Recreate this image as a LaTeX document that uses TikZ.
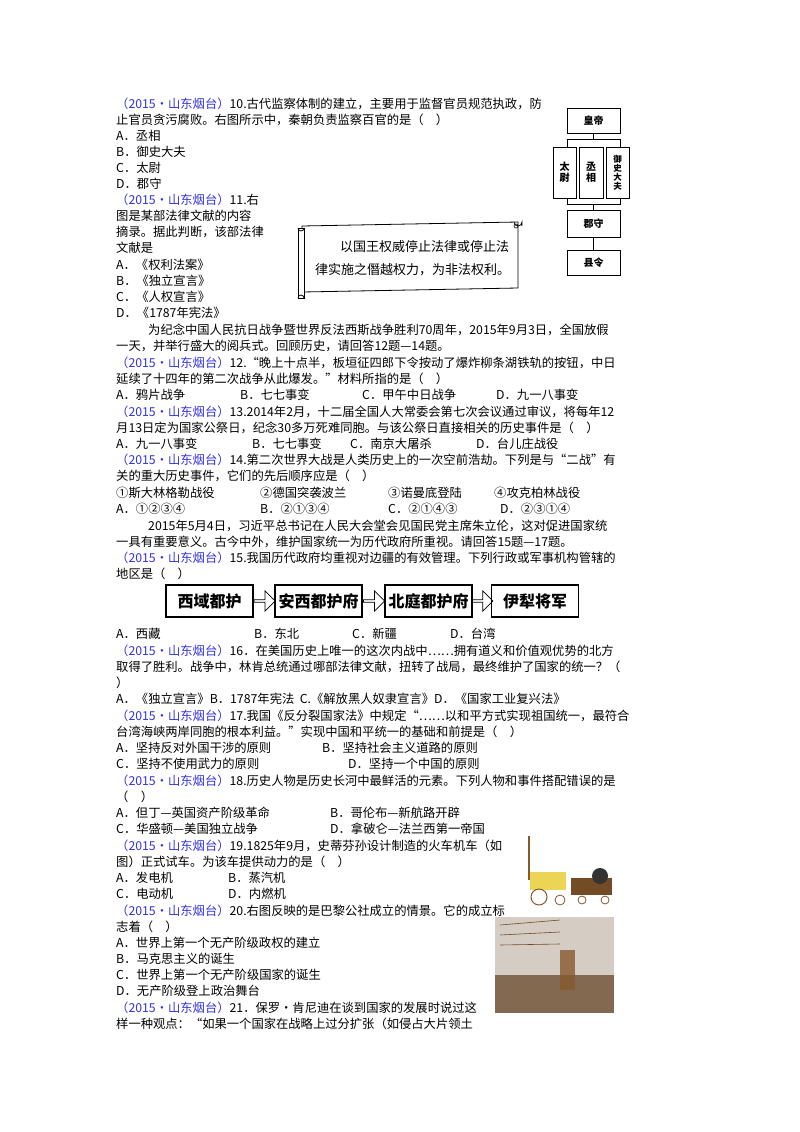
\documentclass[tikz,border=0pt]{standalone}
\usepackage{fontspec}
\setmainfont{Noto Sans CJK SC}
\newfontfamily\cjk{Noto Sans CJK SC}
\usetikzlibrary{shapes.arrows,calc}
\definecolor{qb}{RGB}{50,50,225}
\newcommand\Bl[1]{\textcolor{qb}{#1}}
\newcommand\Q{\Bl{（2015•山东烟台）}}
\newcounter{ln}
\newcommand\Ln[3][116]{\stepcounter{ln}\node[T] (ln\theln) at (#1,#2) {#3};}
\begin{document}
\begin{tikzpicture}[x=1pt,y=-1pt,
  T/.style={anchor=west,inner sep=0pt,font=\fontsize{12.3}{13}\selectfont},
  bx/.style={draw,line width=1pt,fill=white,inner sep=0pt,font=\fontsize{10}{11}\selectfont\bfseries},
  fb/.style={draw,line width=1.1pt,minimum width=87pt,minimum height=32pt,inner sep=0pt,font=\fontsize{16}{17}\selectfont\bfseries},
  ha/.style={single arrow,draw,line width=0.8pt,minimum height=21pt,minimum width=20pt,single arrow head extend=3pt,inner sep=0pt}]
\useasboundingbox (0,0) rectangle (800,1132);
\Ln{104}{\Q 10.古代监察体制的建立，主要用于监督官员规范执政，防}
\Ln{120}{止官员贪污腐败。右图所示中，秦朝负责监察百官的是（\quad ）}
\Ln{136}{A．丞相}
\Ln{152}{B．御史大夫}
\Ln{168}{C．太尉}
\Ln{184}{D．郡守}
\Ln{200}{\Q 11.右}
\Ln{216}{图是某部法律文献的内容}
\Ln{232}{摘录。据此判断，该部法律}
\Ln{248}{文献是}
\Ln{265}{A．《权利法案》}
\Ln{281}{B．《独立宣言》}
\Ln{297}{C．《人权宣言》}
\Ln{313}{D．《1787年宪法》}
\Ln[148]{330}{为纪念中国人民抗日战争暨世界反法西斯战争胜利70周年，2015年9月3日，全国放假}
\Ln{346}{一天，并举行盛大的阅兵式。回顾历史，请回答12题—14题。}
\Ln{363}{\Q 12.“晚上十点半，板垣征四郎下令按动了爆炸柳条湖铁轨的按钮，中日}
\Ln{379}{延续了十四年的第二次战争从此爆发。”材料所指的是（\quad ）}
\Ln{395}{A．鸦片战争}\Ln[240]{395}{B．七七事变}\Ln[362]{395}{C．甲午中日战争}\Ln[496]{395}{D．九一八事变}
\Ln{412}{\Q 13.2014年2月，十二届全国人大常委会第七次会议通过审议，将每年12}
\Ln{428}{月13日定为国家公祭日，纪念30多万死难同胞。与该公祭日直接相关的历史事件是（\quad ）}
\Ln{444}{A．九一八事变}\Ln[252]{444}{B．七七事变}\Ln[350]{444}{C．南京大屠杀}\Ln[476]{444}{D．台儿庄战役}
\Ln{460}{\Q 14.第二次世界大战是人类历史上的一次空前浩劫。下列是与“二战”有}
\Ln{476}{关的重大历史事件，它们的先后顺序应是（\quad ）}
\Ln{493}{①斯大林格勒战役}\Ln[260]{493}{②德国突袭波兰}\Ln[388]{493}{③诺曼底登陆}\Ln[494]{493}{④攻克柏林战役}
\Ln{509}{A．①②③④}\Ln[260]{509}{B．②①③④}\Ln[388]{509}{C．②①④③}\Ln[500]{509}{D．②③①④}
\Ln[148]{526}{2015年5月4日，习近平总书记在人民大会堂会见国民党主席朱立伦，这对促进国家统}
\Ln{542}{一具有重要意义。古今中外，维护国家统一为历代政府所重视。请回答15题—17题。}
\Ln{558}{\Q 15.我国历代政府均重视对边疆的有效管理。下列行政或军事机构管辖的}
\Ln{574}{地区是（\quad ）}
\node[fb] (f1) at (209.5,601) {西域都护};
\node[fb] (f2) at (318.5,601) {安西都护府};
\node[fb] (f3) at (428.5,601) {北庭都护府};
\node[fb] (f4) at (535,601) {伊犁将军};
\node[ha] (a1) at ($(f1.east)!0.5!(f2.west)$) {};
\node[ha] (a2) at ($(f2.east)!0.5!(f3.west)$) {};
\node[ha] (a3) at ($(f3.east)!0.5!(f4.west)$) {};
\Ln{634}{A．西藏}\Ln[254]{634}{B．东北}\Ln[352]{634}{C．新疆}\Ln[450]{634}{D．台湾}
\Ln{651}{\Q 16．在美国历史上唯一的这次内战中……拥有道义和价值观优势的北方}
\Ln{667}{取得了胜利。战争中，林肯总统通过哪部法律文献，扭转了战局，最终维护了国家的统一？（}
\Ln{683}{）}
\Ln{699}{A．《独立宣言》B．1787年宪法\ \ C.《解放黑人奴隶宣言》D．《国家工业复兴法》}
\Ln{716}{\Q 17.我国《反分裂国家法》中规定“……以和平方式实现祖国统一，最符合}
\Ln{732}{台湾海峡两岸同胞的根本利益。”实现中国和平统一的基础和前提是（\quad ）}
\Ln{748}{A．坚持反对外国干涉的原则}\Ln[322]{748}{B．坚持社会主义道路的原则}
\Ln{764}{C．坚持不使用武力的原则}\Ln[348]{764}{D．坚持一个中国的原则}
\Ln{781}{\Q 18.历史人物是历史长河中最鲜活的元素。下列人物和事件搭配错误的是}
\Ln{797}{（\quad ）}
\Ln{813}{A．但丁—英国资产阶级革命}\Ln[330]{813}{B．哥伦布—新航路开辟}
\Ln{829}{C．华盛顿—美国独立战争}\Ln[330]{829}{D．拿破仑—法兰西第一帝国}
\Ln{846}{\Q 19.1825年9月，史蒂芬孙设计制造的火车机车（如}
\Ln{862}{图）正式试车。为该车提供动力的是（\quad ）}
\Ln{878}{A．发电机}\Ln[228]{878}{B．蒸汽机}
\Ln{894}{C．电动机}\Ln[228]{894}{D．内燃机}
\Ln{911}{\Q 20.右图反映的是巴黎公社成立的情景。它的成立标}
\Ln{927}{志着（\quad ）}
\Ln{943}{A．世界上第一个无产阶级政权的建立}
\Ln{959}{B．马克思主义的诞生}
\Ln{975}{C．世界上第一个无产阶级国家的诞生}
\Ln{991}{D．无产阶级登上政治舞台}
\Ln{1008}{\Q 21．保罗•肯尼迪在谈到国家的发展时说过这}
\Ln{1024}{样一种观点：“如果一个国家在战略上过分扩张（如侵占大片领土}
% hierarchy diagram
\draw[line width=0.8pt] (567,139) rectangle (620,204);
\node[bx,minimum width=53pt,minimum height=25pt] (hd) at (593.5,120.5) {皇帝};
\node[bx,minimum width=23pt,minimum height=51pt,align=center] (tw) at (564.5,172.5) {太\\尉};
\node[bx,minimum width=24pt,minimum height=51pt,align=center] (cx) at (591,172.5) {丞\\相};
\node[bx,minimum width=23pt,minimum height=51pt,align=center,font=\fontsize{8.5}{9}\selectfont\bfseries] (ys) at (617.5,172.5) {御\\史\\大\\夫};
\node[bx,minimum width=53pt,minimum height=27pt] (js) at (593.5,223.5) {郡守};
\node[bx,minimum width=53pt,minimum height=25pt] (xl) at (593.5,262.5) {县令};
\draw[line width=0.8pt] (hd.south) -- (593.5,139);
\draw[line width=0.8pt] (593.5,204) -- (js.north);
\draw[line width=0.8pt] (js.south) -- (xl.north);
% scroll
\draw[line width=0.8pt,fill=white] (302,226) -- (518,222) -- (518,288) -- (302,292) -- cycle;
\draw[line width=0.8pt,fill=white] (298,228) rectangle (304,298);
\draw[line width=0.8pt] (298,228) arc[start angle=180,end angle=0,radius=3];
\draw[line width=0.8pt] (298,298) arc[start angle=180,end angle=360,radius=3];
\draw[line width=0.8pt] (514,222) arc[start angle=180,end angle=0,radius=4] -- (522,226);
\draw[line width=0.6pt] (516,226) circle[radius=2];
\node[T,font=\fontsize{13}{14}\selectfont] (s1) at (340,247) {以国王权威停止法律或停止法};
\node[T,font=\fontsize{13}{14}\selectfont] (s2) at (315,270) {律实施之僭越权力，为非法权利。};
% train picture
\fill[white] (523,833) rectangle (617,912);
\draw[line width=1.5pt,brown!70!black] (529,836) -- (529,880);
\fill[yellow!60!brown!80] (530,872) rectangle (566,890);
\fill[brown!60!black] (571,878) rectangle (612,895);
\fill[black!80] (600,876) circle[radius=8];
\draw[brown!70!black,line width=1pt] (539,897) circle[radius=8];
\draw[brown!70!black,line width=0.8pt] (560,900) circle[radius=5];
\draw[brown!70!black,line width=0.8pt] (582,900) circle[radius=4];
\draw[brown!70!black,line width=0.8pt] (605,900) circle[radius=4];
% commune picture
\fill[brown!35!gray!40] (495,917) rectangle (614,1013);
\fill[brown!50!black,opacity=0.7] (495,975) rectangle (614,1013);
\fill[brown!70!black,opacity=0.8] (560,950) rectangle (575,990);
\draw[brown!60!black,line width=0.6pt] (500,925) -- (560,920) (500,935) -- (560,932) (500,945) -- (560,944);
\end{tikzpicture}
\end{document}
